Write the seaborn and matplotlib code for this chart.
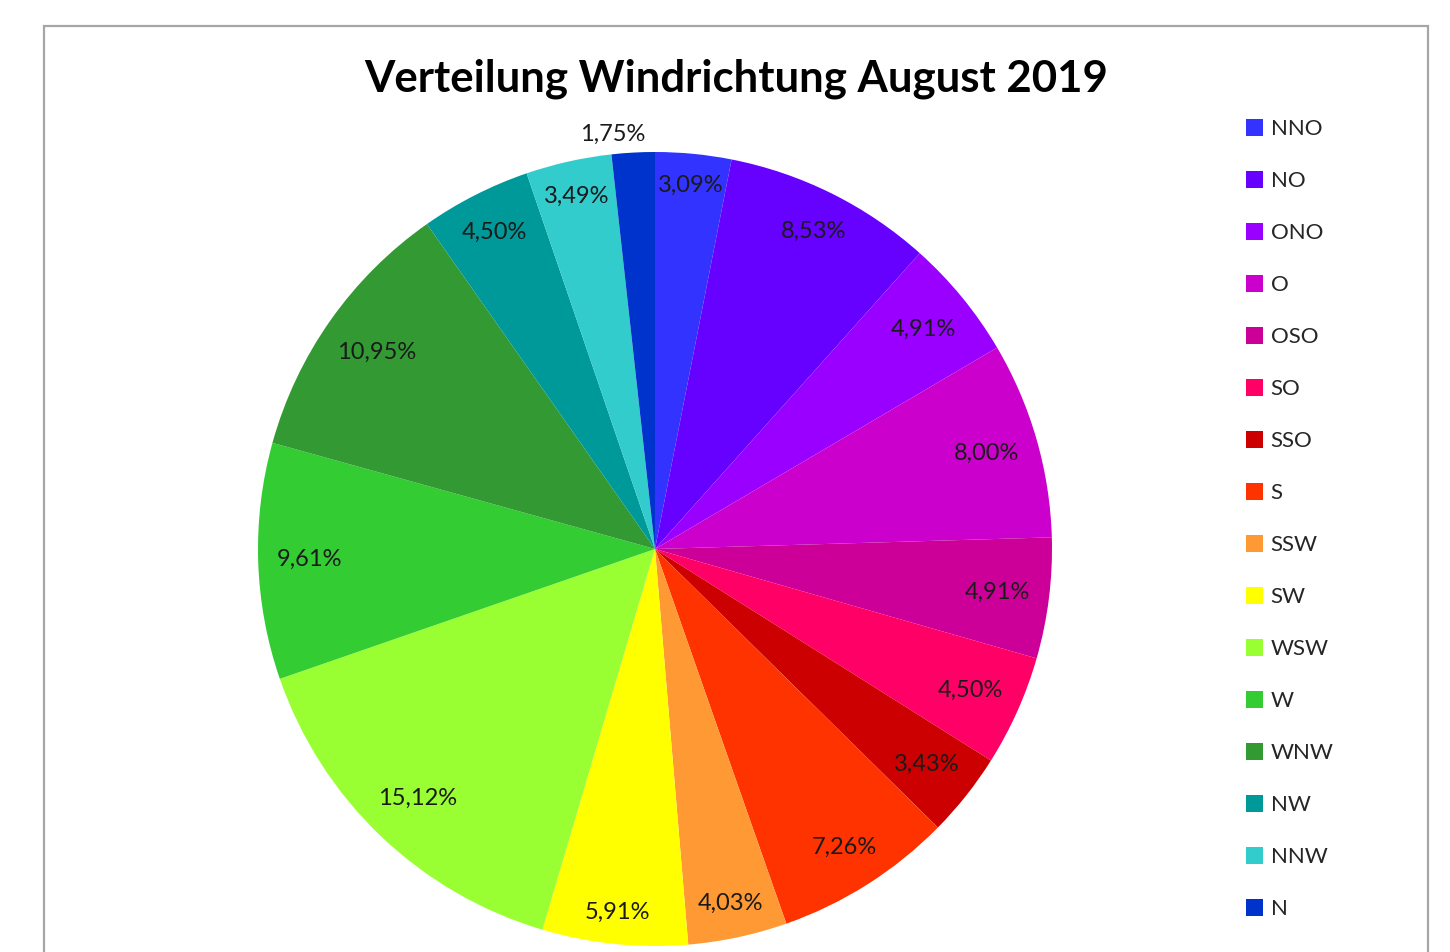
import numpy as np
import matplotlib
matplotlib.use("Agg")
import matplotlib.pyplot as plt
from matplotlib.patches import Rectangle
import seaborn as sns

# Windrichtungen und Anteile (Prozent)
richtungen = ['NNO', 'NO', 'ONO', 'O', 'OSO', 'SO', 'SSO', 'S',
              'SSW', 'SW', 'WSW', 'W', 'WNW', 'NW', 'NNW', 'N']
anteile = [3.09, 8.53, 4.91, 8.00, 4.91, 4.50, 3.43, 7.26,
           4.03, 5.91, 15.12, 9.61, 10.95, 4.50, 3.49, 1.75]
farben = ['#3333FF', '#6600FF', '#9900FF', '#CC00CC', '#CC0099', '#FF0066',
          '#CC0000', '#FF3300', '#FF9933', '#FFFF00', '#99FF33', '#33CC33',
          '#339933', '#009999', '#33CCCC', '#0033CC']

sns.set_theme(style="white")
plt.rcParams['font.family'] = ['Lato', 'DejaVu Sans']

W, H = 1450, 952
fig = plt.figure(figsize=(W / 100, H / 100), dpi=100)

# Rahmen um das Diagramm
fig.patches.append(Rectangle((44 / W, -0.05), (1428 - 44) / W, 1.05 - 26 / H,
                             transform=fig.transFigure, fill=False,
                             edgecolor='#a6a6a6', linewidth=1.6))

# Kreis: Mitte (655, 549), Radius 397 px
cx, cy, r = 655, 549, 397
ax = fig.add_axes([(cx - r) / W, (H - cy - r) / H, 2 * r / W, 2 * r / H])

palette = sns.color_palette(farben)
wedges, _ = ax.pie(anteile, colors=palette, startangle=90, counterclock=False,
                   radius=1, wedgeprops=dict(linewidth=0))
ax.set_xlim(-1, 1)
ax.set_ylim(-1, 1)
ax.set_aspect('equal')
ax.axis('off')

# Beschriftung der Anteile ("innerhalb Ende" wie in Excel)
summe = sum(anteile)
start = 90.0
renderer = fig.canvas.get_renderer()
rand = 0.045
for w, v in zip(wedges, anteile):
    mitte = start - v / summe * 360 / 2
    start -= v / summe * 360
    txt = f"{v:.2f}%".replace('.', ',')
    t = ax.text(0, 0, txt, ha='center', va='center', fontsize=17,
                color='#1a1a1a', clip_on=False)
    bb = t.get_window_extent(renderer)
    hw = bb.width / 2 / r
    hh = bb.height / 2 / r
    if v > 2:
        a = np.deg2rad(mitte)
        ext = hw * abs(np.cos(a)) + hh * abs(np.sin(a))
        d = 1 - rand - ext
    else:
        a = np.deg2rad(mitte + 2.7)
        d = 1.05
    t.set_position((d * np.cos(a), d * np.sin(a)))

fig.text(736 / W, 1 - 79 / H, 'Verteilung Windrichtung August 2019',
         ha='center', va='center', fontsize=31.5, fontweight='bold', color='black')

fig.legend(wedges, richtungen, loc='upper left',
           bbox_to_anchor=(1235 / W, 1 - 108 / H), frameon=False,
           fontsize=16, handlelength=0.75, handleheight=0.75,
           handletextpad=0.35, labelspacing=1.44, borderpad=0)

fig.savefig('out.png', dpi=100)
